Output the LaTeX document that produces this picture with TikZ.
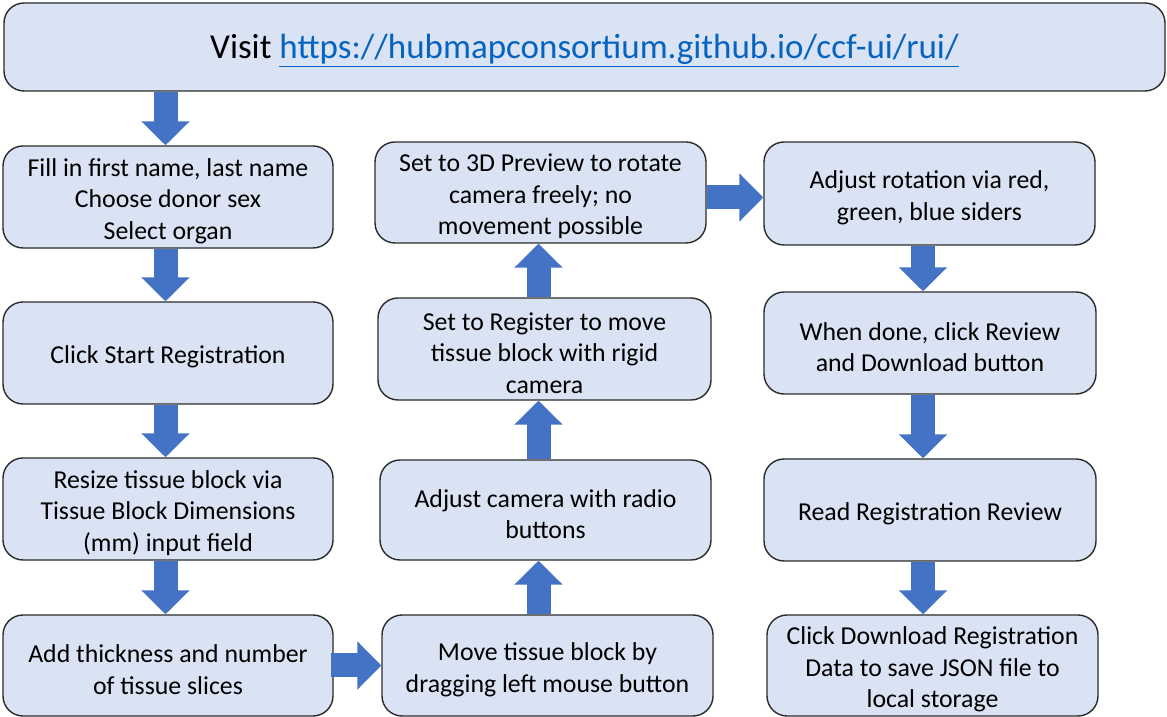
\documentclass[tikz,border=0pt]{standalone}
\usepackage{fontspec}
\setmainfont{Carlito}
\usetikzlibrary{arrows.meta}
\definecolor{boxfill}{HTML}{DAE3F3}
\definecolor{boxline}{HTML}{2B2B2B}
\definecolor{arrowblue}{HTML}{4472C4}
\definecolor{linkblue}{HTML}{0563C1}
\newcommand\mystrut{\rule{0pt}{26pt}}
\tikzset{
  stepbox/.style={draw=boxline, line width=1.4pt, fill=boxfill, rounded corners=20pt,
    inner sep=0pt, align=center, font=\fontsize{25.8}{31.5}\selectfont},
  blockarrow/.style={draw=arrowblue, line width=24pt,
    -{Triangle[width=47pt,length=24pt]}}
}
\begin{document}
\begin{tikzpicture}[x=1pt,y=1pt]
\useasboundingbox (0,0) rectangle (1167,717);
% top box
\node[stepbox, minimum width=1161pt, minimum height=88pt, font=\fontsize{35}{42}\selectfont]
  (top) at (584.5,670) {\rule{0pt}{32pt}Visit \textcolor{linkblue}{\underline{https://hubmapconsortium.github.io/ccf-ui/rui/}}};
% column 1
\node[stepbox, minimum width=330pt, minimum height=102pt] (c1a) at (168,520)
  {\mystrut Fill in first name, last name\\Choose donor sex\\Select organ};
\node[stepbox, minimum width=330pt, minimum height=102pt] (c1b) at (168,364)
  {\mystrut Click Start Registration};
\node[stepbox, minimum width=330pt, minimum height=102pt] (c1c) at (168,208)
  {\mystrut Resize tissue block via\\Tissue Block Dimensions\\(mm) input field};
\node[stepbox, minimum width=330pt, minimum height=101pt] (c1d) at (168,51.5)
  {\mystrut Add thickness and number\\of tissue slices};
% column 2
\node[stepbox, minimum width=331pt, minimum height=101pt] (c2d) at (547.5,51.5)
  {\mystrut Move tissue block by\\dragging left mouse button};
\node[stepbox, minimum width=331pt, minimum height=100pt] (c2c) at (545.5,207)
  {\mystrut Adjust camera with radio\\buttons};
\node[stepbox, minimum width=333pt, minimum height=102pt] (c2b) at (544.5,368)
  {\mystrut Set to Register to move\\tissue block with rigid\\camera};
\node[stepbox, minimum width=331pt, minimum height=101pt] (c2a) at (540.5,524.5)
  {\mystrut Set to 3D Preview to rotate\\camera freely; no\\movement possible};
% column 3
\node[stepbox, minimum width=331pt, minimum height=103pt] (c3a) at (929.5,523.5)
  {\mystrut Adjust rotation via red,\\green, blue siders};
\node[stepbox, minimum width=332pt, minimum height=102pt] (c3b) at (930,374)
  {\mystrut When done, click Review\\and Download button};
\node[stepbox, minimum width=332pt, minimum height=102pt] (c3c) at (930,207)
  {\mystrut Read Registration Review};
\node[stepbox, minimum width=331pt, minimum height=101pt] (c3d) at (932.5,51.5)
  {\mystrut Click Download Registration\\Data to save JSON file to\\local storage};
% arrows column 1
\draw[blockarrow] (165.5,0 |- top.south) -- (165.5,0 |- c1a.north);
\draw[blockarrow] ([xshift=-2.5pt]c1a.south) -- ([xshift=-2.5pt]c1b.north);
\draw[blockarrow] ([xshift=-2.5pt]c1b.south) -- ([xshift=-2.5pt]c1c.north);
\draw[blockarrow] ([xshift=-2.5pt]c1c.south) -- ([xshift=-2.5pt]c1d.north);
% arrow col1 -> col2
\draw[blockarrow] ([xshift=-3pt]c1d.east) -- (c2d.west);
% arrows column 2 (upwards)
\draw[blockarrow] (538.5,0 |- c2d.north) -- (538.5,0 |- c2c.south);
\draw[blockarrow] (538.5,0 |- c2c.north) -- (538.5,0 |- c2b.south);
\draw[blockarrow] (538.5,0 |- c2b.north) -- (538.5,0 |- c2a.south);
% arrow col2 -> col3
\draw[blockarrow] ([yshift=-5pt]c2a.east) -- ([yshift=-5pt]c2a.east -| c3a.west);
% arrows column 3
\draw[blockarrow] (923,0 |- c3a.south) -- (923,0 |- c3b.north);
\draw[blockarrow] (923,0 |- c3b.south) -- (923,0 |- c3c.north);
\draw[blockarrow] (923,0 |- c3c.south) -- (923,0 |- c3d.north);
\end{tikzpicture}
\end{document}
